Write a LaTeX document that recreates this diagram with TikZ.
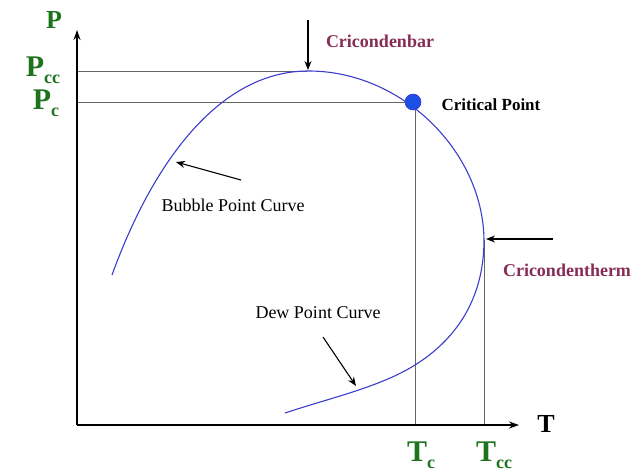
\documentclass[tikz,border=0pt]{standalone}
\usepackage{fontspec}
\setmainfont{Liberation Serif}
\usetikzlibrary{arrows.meta}
\definecolor{axgreen}{RGB}{30,115,30}
\definecolor{maroon}{RGB}{135,45,85}
\definecolor{curveblue}{RGB}{60,60,205}
\definecolor{ptblue}{RGB}{30,80,230}
\begin{document}
\begin{tikzpicture}[x=1pt,y=-1pt,
  axis/.style={line width=1.8pt,-{Stealth[length=10pt,width=7pt]}},
  guide/.style={draw=gray!80!black,line width=0.7pt},
  curve/.style={draw=curveblue,line width=1.1pt},
  pointer/.style={line width=1.1pt,-{Stealth[length=9pt,width=7pt]}},
  bigl/.style={text=axgreen,font=\bfseries\fontsize{30}{30}\selectfont,inner sep=0pt},
  axl/.style={font=\bfseries\fontsize{26}{26}\selectfont,inner sep=0pt},
  namel/.style={text=maroon,font=\bfseries\fontsize{18}{18}\selectfont,inner sep=0pt},
  curvel/.style={font=\fontsize{18}{18}\selectfont,inner sep=0pt}]
\newcommand{\sbs}[1]{\raisebox{-0.22em}[\height][0pt]{\fontsize{18}{18}\selectfont #1}}
\useasboundingbox (0,0) rectangle (633,475);
% axes
\coordinate (O) at (77,425);
\coordinate (Ytip) at (77,30);
\coordinate (Xtip) at (519,425);
% guides
\coordinate (pcc0) at (77,71);
\coordinate (top) at (307,71);
\coordinate (pc0) at (77,102);
\coordinate (cp) at (413,102);
\coordinate (tc0) at (415,425);
\coordinate (tc1) at (415,102);
\coordinate (tcc0) at (484,425);
\coordinate (tcc1) at (484,240);
\draw[guide] (pcc0) -- (top);
\draw[guide] (pc0) -- (cp);
\draw[guide] (tc0) -- (tc1);
\draw[guide] (tcc0) -- (tcc1);
\draw[axis] (O) -- (Ytip);
\draw[axis] (O) -- (Xtip);
% phase envelope
\coordinate (bstart) at (112,275);
\coordinate (dmid) at (415,365);
\coordinate (dend) at (285,413);
\draw[curve] (bstart) .. controls (150,170) and (215,72) .. (top)
  .. controls (400,70) and (483,150) .. (tcc1)
  .. controls (484,300) and (455,340) .. (dmid)
  .. controls (380,387) and (330,398) .. (dend);
\fill[ptblue] (cp) circle (8);
\draw[curveblue,line width=0.6pt] (cp) circle (8);
% labels
\node[axl,text=axgreen] (P) at (54,20) {P};
\node[bigl] (Pcc) at (43,67) {P\sbs{cc}};
\node[bigl] (Pc) at (46,100) {P\sbs{c}};
\node[axl] (T) at (546,424) {T};
\node[bigl] (Tc) at (421,452) {T\sbs{c}};
\node[bigl] (Tcc) at (494,452) {T\sbs{cc}};
\node[namel] (cb) at (380,41) {Cricondenbar};
\node[font=\bfseries\fontsize{17}{17}\selectfont,inner sep=0pt] (cpl) at (491,105) {Critical Point};
\node[namel] (ct) at (567,270) {Cricondentherm};
\node[curvel] (bpc) at (233,205) {Bubble Point Curve};
\node[curvel] (dpc) at (318,313) {Dew Point Curve};
% pointers
\coordinate (cbs) at (308,20);
\coordinate (cbe) at (308,70);
\draw[pointer] (cbs) -- (cbe);
\coordinate (cts) at (553,239);
\coordinate (cte) at (486,239);
\draw[pointer] (cts) -- (cte);
\coordinate (bs) at (241,180);
\coordinate (be) at (176,162);
\draw[pointer] (bs) -- (be);
\coordinate (ds) at (323,337);
\coordinate (de) at (356,386);
\draw[pointer] (ds) -- (de);
\end{tikzpicture}
\end{document}
